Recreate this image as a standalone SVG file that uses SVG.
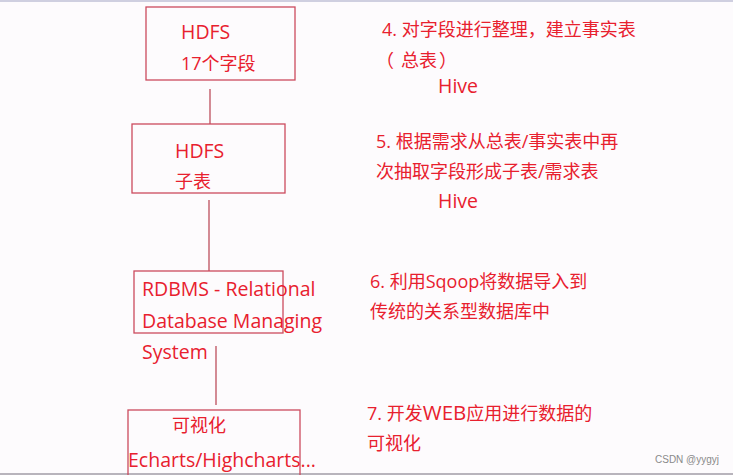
<svg xmlns="http://www.w3.org/2000/svg" width="733" height="475" viewBox="0 0 733 475">
<style>
.box{fill:none;stroke:#cc4a5e;stroke-width:1.3}
.t{font-family:"Open Sans","Noto Sans CJK SC",sans-serif;font-size:18px;fill:#e8202e}
.l{font-size:19.5px}
.c{stroke:#b8404f;stroke-width:1.2;fill:none}
.wm{font-family:"Liberation Sans",sans-serif;font-size:10px;fill:#8a8a8a}
</style>
<rect x="0" y="0" width="733" height="475" fill="#fdfbfd"/>
<rect x="0" y="0" width="733" height="2" fill="#cfcfe0"/>
<rect x="0" y="473" width="733" height="2" fill="#b8b4bc"/>
<g id="connectors">
<line class="c" x1="210" y1="89" x2="210" y2="124"/>
<line class="c" x1="209" y1="200" x2="209" y2="271"/>
<line class="c" x1="216" y1="346" x2="216" y2="405"/>
</g>
<g id="n1">
<rect class="box" x="146" y="7" width="149" height="73"/>
<text class="t l" x="181" y="39">HDFS</text>
<text class="t" x="181" y="70">17个字段</text>
</g>
<g id="n2">
<rect class="box" x="132" y="124" width="153" height="69"/>
<text class="t l" x="175" y="158">HDFS</text>
<text class="t" x="175" y="188">子表</text>
</g>
<g id="n3">
<rect class="box" x="134" y="271" width="149" height="62"/>
<text class="t l" x="142" y="296">RDBMS - Relational</text>
<text class="t l" x="142" y="328">Database Managing</text>
<text class="t l" x="142" y="359">System</text>
</g>
<g id="n4">
<rect class="box" x="128" y="410" width="172" height="70"/>
<text class="t" x="172" y="432">可视化</text>
<text class="t l" x="128" y="467">Echarts/Highcharts...</text>
</g>
<g id="notes">
<text class="t" x="382" y="36">4. 对字段进行整理，建立事实表</text>
<text class="t" y="67"><tspan x="376">（</tspan><tspan x="401">总表</tspan><tspan x="439">）</tspan></text>
<text class="t l" x="438" y="93">Hive</text>
<text class="t" x="376" y="148">5. 根据需求从总表/事实表中再</text>
<text class="t" x="376" y="178">次抽取字段形成子表/需求表</text>
<text class="t l" x="438" y="208">Hive</text>
<text class="t" x="370" y="288">6. 利用Sqoop将数据导入到</text>
<text class="t" x="370" y="318">传统的关系型数据库中</text>
<text class="t" x="367" y="420">7. 开发<tspan style="font-size:20.5px">WEB</tspan>应用进行数据的</text>
<text class="t" x="367" y="450">可视化</text>
</g>
<text class="wm" x="655" y="463">CSDN @yygyj</text>
</svg>
